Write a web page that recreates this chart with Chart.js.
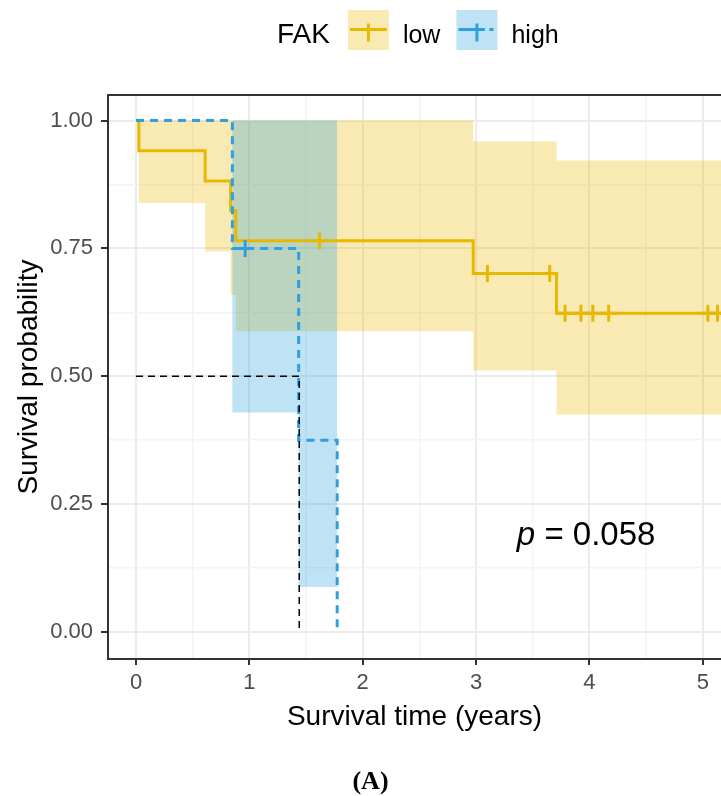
<!DOCTYPE html>
<html>
<head>
<meta charset="utf-8">
<title>FAK survival</title>
<script src="https://cdn.jsdelivr.net/npm/chart.js@4.4.1/dist/chart.umd.min.js"></script>
<style>
  html, body { margin: 0; padding: 0; background: #fff; overflow: hidden; }
  canvas { display: block; }
</style>
</head>
<body>
<canvas id="kmChart" width="721" height="796"></canvas>
<script>
const ctx = document.querySelector('#kmChart').getContext('2d');

// Kaplan-Meier estimate, FAK low
const lowTime = [0, 0.025, 0.61, 0.835, 0.88, 2.975, 3.71, 5.2];
const lowSurv = [1, 0.941, 0.882, 0.824, 0.765, 0.701, 0.623, 0.623];
const lowUpper = [1, 1, 1, 1, 1, 0.959, 0.922, 0.922];
const lowLower = [1, 0.839, 0.744, 0.659, 0.588, 0.511, 0.425, 0.425];
const lowCensorTime = [1.62, 3.1, 3.65, 3.785, 3.925, 4.03, 4.17, 5.045, 5.13];
const lowCensorSurv = [0.765, 0.701, 0.701, 0.623, 0.623, 0.623, 0.623, 0.623, 0.623];

// FAK high
const highTime = [0, 0.85, 1.435, 1.775];
const highSurv = [1, 0.75, 0.375, 0];
const highUpper = [1, 1, 1, 1];
const highLower = [1, 0.429, 0.088, 0.088];
const highCensorTime = [0.963];
const highCensorSurv = [0.75];

// median survival (high)
const medianSurv = 0.5;
const highMedianTime = 1.44;

const xTicks = [0, 0.5, 1, 1.5, 2, 2.5, 3, 3.5, 4, 4.5, 5];
const yTicks = [0, 0.125, 0.25, 0.375, 0.5, 0.625, 0.75, 0.875, 1];
const pValue = '0.058';

const lowColor = '#E7B800';
const highColor = '#2E9FDF';
const lowFill = 'rgba(231, 184, 0, 0.3)';
const highFill = 'rgba(46, 159, 223, 0.3)';
const sans = '"Liberation Sans", Arial, sans-serif';

const toPoints = (xs, ys) => xs.map((x, i) => ({x, y: ys[i]}));

const band = (xs, ys, order, fill, color) => ({
    data: toPoints(xs, ys),
    order,
    stepped: 'before',
    borderWidth: 0,
    borderColor: 'rgba(0,0,0,0)',
    backgroundColor: color || 'rgba(0,0,0,0)',
    fill: fill,
    pointRadius: 0,
});

const censor = (xs, ys, color, order) => ({
    data: toPoints(xs, ys),
    order,
    showLine: false,
    pointStyle: 'cross',
    pointRadius: 8.5,
    pointBorderWidth: 3,
    pointBorderColor: color,
    pointBackgroundColor: color,
});

const isMajor = v => Number.isInteger(v);

// top panel border, legend, p-value and caption
const extras = {
    id: 'extras',
    afterDraw(chart) {
        const c = chart.ctx;
        const area = chart.chartArea;
        const xs = chart.scales.x;
        const ys = chart.scales.y;
        c.save();

        c.strokeStyle = '#333333';
        c.lineWidth = 2;
        c.beginPath();
        c.moveTo(area.left - 1, area.top);
        c.lineTo(area.right, area.top);
        c.stroke();

        // legend
        let x = 277;
        const base = 43;
        const keyTop = 10, keySize = 41, keyMid = 29.5;
        c.fillStyle = '#000';
        c.textBaseline = 'alphabetic';
        c.textAlign = 'left';
        c.font = '28px ' + sans;
        c.fillText('FAK', x, base);
        x += c.measureText('FAK').width + 18;

        const items = [
            {label: 'low', color: lowColor, fill: lowFill, dash: []},
            {label: 'high', color: highColor, fill: highFill, dash: [12, 19, 4, 10]},
        ];
        items.forEach((it, i) => {
            c.fillStyle = it.fill;
            c.fillRect(x, keyTop, keySize, keySize - 1);
            c.strokeStyle = it.color;
            c.lineWidth = 3;
            c.setLineDash(it.dash);
            c.beginPath();
            c.moveTo(x + 2, keyMid);
            c.lineTo(x + keySize - 2, keyMid);
            c.stroke();
            c.setLineDash([]);
            const cx = x + keySize / 2;
            c.beginPath();
            c.moveTo(cx - 8, keyMid);
            c.lineTo(cx + 8, keyMid);
            c.moveTo(cx, keyMid - 6);
            c.lineTo(cx, keyMid + 12);
            c.stroke();
            x += keySize + 14;
            c.fillStyle = '#000';
            c.font = '25px ' + sans;
            c.fillText(it.label, x, base);
            x += c.measureText(it.label).width + (i === 0 ? 16 : 0);
        });

        // log-rank p-value
        const px = xs.getPixelForValue(3.36);
        const py = ys.getPixelForValue(0.17);
        c.fillStyle = '#000';
        c.font = 'italic 33px ' + sans;
        c.fillText('p', px, py);
        const pw = c.measureText('p').width;
        c.font = '33px ' + sans;
        c.fillText(' = ' + pValue, px + pw, py);

        // panel caption
        c.font = 'bold 26px "Liberation Serif", "Times New Roman", serif';
        c.textAlign = 'center';
        c.fillText('(A)', (area.left + area.right) / 2 - 44, 789);
        c.restore();
    }
};

const data = {
    datasets: [
        band(lowTime, lowUpper, 10, false),
        band(lowTime, lowLower, 9, '-1', lowFill),
        band(highTime, highUpper, 8, false),
        band(highTime, highLower, 7, '-1', highFill),
        {
            data: toPoints(lowTime, lowSurv),
            order: 6,
            stepped: 'before',
            borderColor: lowColor,
            borderWidth: 3,
            pointRadius: 0,
            fill: false,
        },
        {
            data: toPoints(highTime, highSurv),
            order: 5,
            stepped: 'before',
            borderColor: highColor,
            borderWidth: 3,
            borderDash: [8, 6],
            pointRadius: 0,
            fill: false,
        },
        censor(lowCensorTime, lowCensorSurv, lowColor, 4),
        censor(highCensorTime, highCensorSurv, highColor, 3),
        {
            data: toPoints([0, highMedianTime, highMedianTime], [medianSurv, medianSurv, 0]),
            order: 2,
            borderColor: '#000000',
            borderWidth: 1.5,
            borderDash: [7, 5],
            pointRadius: 0,
            fill: false,
        },
    ],
};

const config = {
    type: 'line',
    data: data,
    options: {
        responsive: false,
        animation: false,
        events: [],
        layout: {
            autoPadding: false,
            padding: {top: 95, left: 0, right: 0, bottom: 0},
        },
        plugins: {
            legend: {display: false},
            tooltip: {enabled: false},
        },
        scales: {
            x: {
                type: 'linear',
                min: -0.247,
                max: 5.161,
                afterBuildTicks: axis => { axis.ticks = xTicks.map(value => ({value})); },
                afterFit: axis => {
                    axis.height = 137;
                    axis.paddingLeft = 0;
                    axis.paddingRight = 0;
                },
                border: {color: '#333333', width: 2},
                grid: {
                    color: c => isMajor(c.tick.value) ? '#EBEBEB' : '#F3F3F3',
                    lineWidth: c => isMajor(c.tick.value) ? 2 : 1.5,
                    tickColor: c => isMajor(c.tick.value) ? '#333333' : 'rgba(0,0,0,0)',
                    tickLength: 6,
                    tickWidth: 2,
                },
                ticks: {
                    autoSkip: false,
                    maxRotation: 0,
                    padding: 5,
                    color: '#4D4D4D',
                    font: {family: sans, size: 22},
                    callback: v => isMajor(v) ? String(v) : '',
                },
                title: {
                    display: true,
                    text: 'Survival time (years)',
                    color: '#000000',
                    font: {family: sans, size: 28},
                    padding: {top: 0, bottom: 62},
                },
            },
            y: {
                type: 'linear',
                min: -0.053,
                max: 1.05,
                afterBuildTicks: axis => { axis.ticks = yTicks.map(value => ({value})); },
                afterFit: axis => { axis.width = 108; },
                border: {color: '#333333', width: 2},
                grid: {
                    color: c => isMajor(c.tick.value * 4) ? '#EBEBEB' : '#F3F3F3',
                    lineWidth: c => isMajor(c.tick.value * 4) ? 2 : 1.5,
                    tickColor: c => isMajor(c.tick.value * 4) ? '#333333' : 'rgba(0,0,0,0)',
                    tickLength: 7,
                    tickWidth: 2,
                },
                ticks: {
                    autoSkip: false,
                    padding: 8,
                    color: '#4D4D4D',
                    font: {family: sans, size: 22},
                    callback: v => isMajor(v * 4) ? v.toFixed(2) : '',
                },
                title: {
                    display: true,
                    text: 'Survival probability',
                    color: '#000000',
                    font: {family: sans, size: 28},
                    padding: {top: 12, bottom: 0},
                },
            },
        },
    },
    plugins: [extras],
};

const myChart = new Chart(ctx, config);
</script>
</body>
</html>
